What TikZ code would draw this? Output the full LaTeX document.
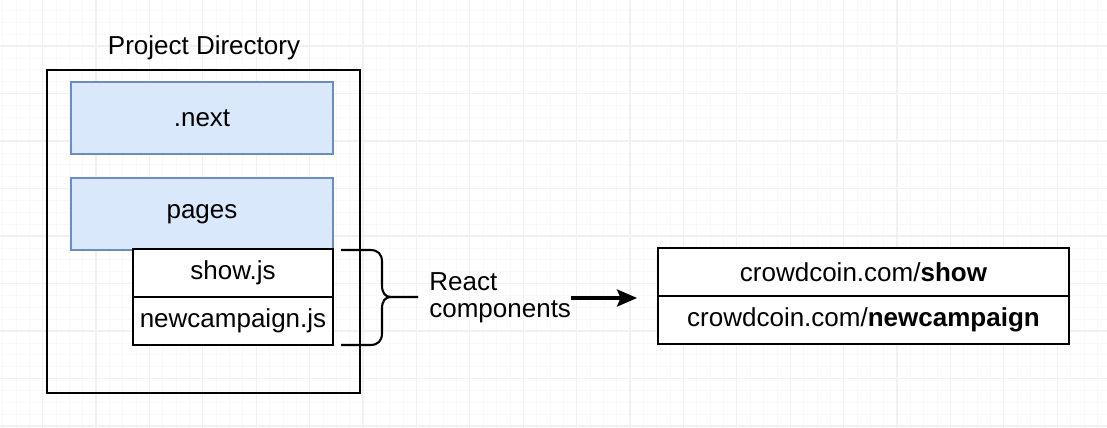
\documentclass[tikz,border=0pt]{standalone}
\usepackage{fontspec}
\setmainfont{Liberation Sans}
\usetikzlibrary{arrows.meta,positioning}
\definecolor{folderfill}{HTML}{DAE8FC}
\definecolor{folderline}{HTML}{6C8EBF}
\tikzset{
	gridminor/.style={draw=black!2.5, line width=0.4pt},
	gridmajor/.style={draw=black!5.5, line width=0.6pt},
	dirbox/.style={draw, line width=1.2pt, inner sep=0pt, outer sep=0pt, minimum width=6.26cm, minimum height=6.46cm},
	folder/.style={draw=folderline, fill=folderfill, line width=1.2pt, inner sep=0pt, outer sep=0pt, minimum width=5.24cm, minimum height=1.44cm},
	file/.style={draw, fill=white, line width=1.2pt, inner sep=0pt, outer sep=0pt, minimum width=4cm, minimum height=0.96cm},
	url/.style={draw, fill=white, line width=1.2pt, inner sep=0pt, outer sep=0pt, minimum width=8.22cm, minimum height=0.96cm},
	brace/.style={draw, line width=1.2pt},
	flow/.style={line width=1.8pt, -{Stealth[length=0.4cm,width=0.34cm,inset=0.07cm]}}
}
\begin{document}
\begin{tikzpicture}[x=0.02cm,y=-0.02cm]
	\fontsize{14.8}{15.3}\selectfont
	\useasboundingbox (0,0) rectangle (1107,428);
	% grid in the background
	\foreach \k in {0,...,82} \draw[gridminor] ({2.55+13.35*\k},0) -- ++(0,428);
	\foreach \k in {0,...,35} \draw[gridminor] (0,{10.375+11.875*\k}) -- ++(1107,0);
	\foreach \k in {1,...,20} \draw[gridmajor] ({-10.8+53.4*\k},0) -- ++(0,428);
	\foreach \k in {0,...,8} \draw[gridmajor] (0,{46+47.5*\k}) -- ++(1107,0);

	\node[dirbox] (root) at (203.5,231.5) {};
	\node[anchor=base] (title) at (204,55) {Project Directory};

	\node[folder] (next) at (202,118) {.next};
	\node[folder] (pages) at (202,214) {pages};
	\node[file] (show) at (233,273) {show.js};
	\node[file,below=0pt of show] (newcamp) {newcampaign.js};

	\draw[brace] (341,250) -- (370,250) .. controls (378,250) and (382,254) .. (382,262)
		-- (382,285) .. controls (382,293) and (385,297) .. (391,297) -- (418,297);
	\draw[brace] (391,297) .. controls (385,297) and (382,301) .. (382,309)
		-- (382,333) .. controls (382,341) and (378,345) .. (370,345) -- (341,345);
	\node[anchor=west,align=left,inner sep=0pt] (react) at (429,298) {React\\components};

	\node[url] (urlshow) at (863.5,272) {crowdcoin.com/\textbf{show}};
	\node[url,below=0pt of urlshow] (urlnew) {crowdcoin.com/\textbf{newcampaign}};
	\draw[flow,shorten >=0.42cm] (react.east) -- (react.east -| urlnew.west);
\end{tikzpicture}
\end{document}
